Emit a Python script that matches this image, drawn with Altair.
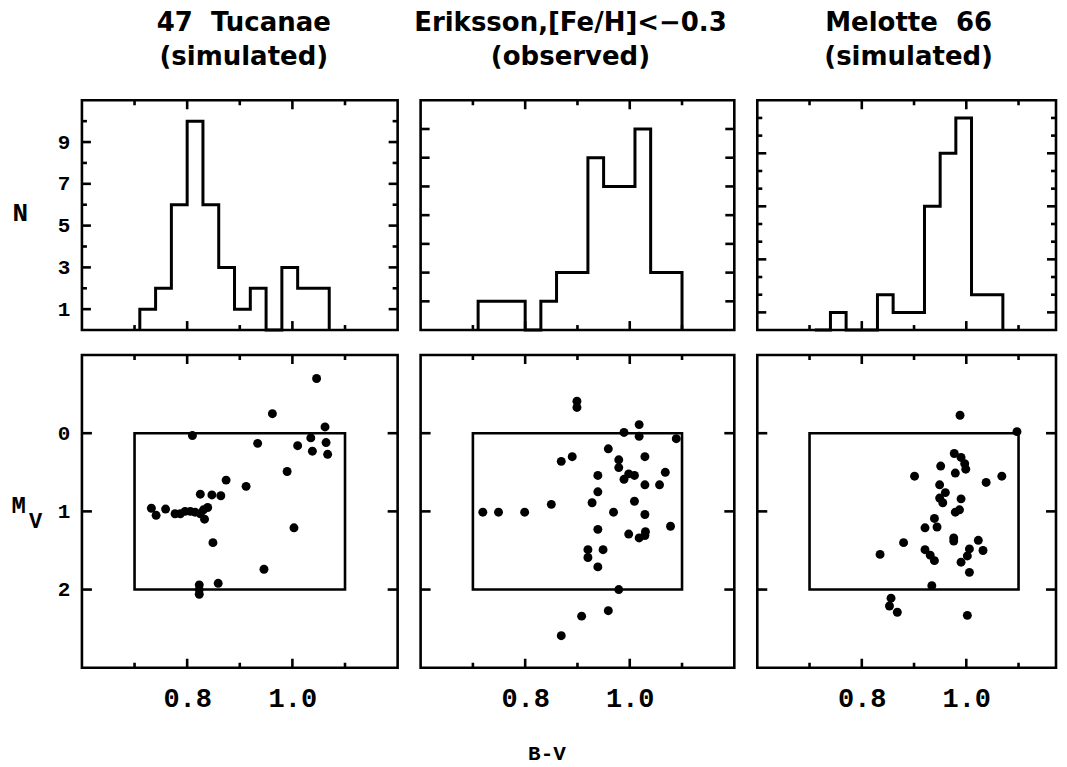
import altair as alt
import pandas as pd

# ---------------- data ----------------
EDGES = [0.71, 0.74, 0.77, 0.80, 0.83, 0.86, 0.89, 0.92, 0.95, 0.98, 1.01, 1.04, 1.07, 1.10]
TUC_COUNTS = [1, 2, 6, 10, 6, 3, 1, 2, 0, 3, 2, 2]
ERI_COUNTS = [1, 1, 1, 0, 1, 2, 2, 6, 5, 5, 7, 2, 2]
MEL_COUNTS = [0, 1, 0, 0, 2, 1, 1, 7, 10, 12, 2, 2]

TUC_BV = [1.046, 0.962, 1.062, 0.810, 1.035, 1.064, 0.934, 1.010, 1.038, 1.067, 0.990, 0.874,
          0.912, 0.825, 0.847, 0.864, 0.732, 0.741, 0.759, 0.777, 0.787, 0.796, 0.806, 0.815,
          0.825, 0.831, 0.839, 0.833, 1.003, 0.849, 0.946, 0.823, 0.859, 0.823, 0.823]
TUC_MV = [-0.70, -0.25, -0.08, 0.03, 0.06, 0.12, 0.13, 0.16, 0.23, 0.27, 0.49, 0.60,
          0.68, 0.78, 0.79, 0.80, 0.96, 1.05, 0.97, 1.03, 1.03, 1.00, 1.00, 1.01,
          1.03, 0.98, 0.95, 1.10, 1.21, 1.40, 1.74, 1.94, 1.92, 2.06, 2.00]

ERI_BV = [0.899, 0.899, 1.018, 0.989, 1.018, 1.089, 0.959, 0.869, 0.890, 0.979, 0.979, 1.029,
          0.939, 0.989, 0.998, 1.009, 1.029, 1.068, 1.057, 0.939, 0.928, 0.850, 1.009, 0.719,
          0.749, 0.799, 0.969, 1.029, 1.078, 0.939, 0.998, 1.018, 1.029, 1.030, 0.920, 0.920,
          0.949, 0.939, 0.979, 0.959, 0.908, 0.869]
ERI_MV = [-0.41, -0.33, -0.11, -0.01, 0.04, 0.07, 0.20, 0.36, 0.30, 0.34, 0.44, 0.30,
          0.54, 0.59, 0.52, 0.54, 0.66, 0.50, 0.66, 0.75, 0.89, 0.91, 0.87, 1.01,
          1.01, 1.01, 1.01, 1.04, 1.19, 1.23, 1.29, 1.34, 1.31, 1.26, 1.49, 1.59,
          1.49, 1.71, 2.00, 2.27, 2.34, 2.59]

MEL_BV = [0.988, 1.097, 0.977, 0.990, 0.997, 0.999, 0.979, 0.951, 0.901, 1.068, 1.038, 0.949,
          0.960, 0.949, 0.955, 0.990, 0.987, 0.979, 0.939, 0.944, 0.921, 0.976, 0.976, 1.023,
          1.032, 0.880, 0.835, 0.921, 0.931, 0.939, 1.006, 1.002, 0.990, 1.006, 0.934, 0.856,
          0.853, 0.868, 1.002]
MEL_MV = [-0.23, -0.02, 0.26, 0.31, 0.39, 0.46, 0.51, 0.42, 0.55, 0.55, 0.63, 0.66,
          0.76, 0.83, 0.89, 0.84, 0.98, 1.01, 1.09, 1.20, 1.21, 1.34, 1.38, 1.37,
          1.50, 1.40, 1.55, 1.49, 1.56, 1.63, 1.48, 1.57, 1.65, 1.78, 1.95, 2.11,
          2.21, 2.29, 2.33]

TITLES = [["47\u00a0\u00a0Tucanae", "(simulated)"],
          ["Eriksson,[Fe/H]<\u22120.3", "(observed)"],
          ["Melotte\u00a0\u00a066", "(simulated)"]]
TITLE_DX = [4, -7, 2]

X_MAJOR = [0.8, 1.0]
X_MINOR = [0.7, 0.9, 1.1]
HIST_YMAX = [11.0, 8.0, 13.0]
HIST_MAJOR = [[1, 3, 5, 7, 9], [1, 2, 3, 4, 5, 6, 7], [1, 4, 7, 10]]
HIST_MINOR = [[2, 4, 6, 8, 10], [], [2, 3, 5, 6, 8, 9, 11, 12]]
HIST_LABELS = [1, 3, 5, 7, 9]
MV_TICKS = [0, 1, 2]
BOX_BV = [0.7, 1.1]
BOX_MV = [0, 2]
MV_SUB = ["V"]

# ---------------- layout/style ----------------
WIDTHS = [316, 314, 299]
XMAX = [1.2, 1.2, 1.1717]
HIST_H = 230
SCAT_H = 313
MAJ_LEN = 9
MIN_LEN = 5
LW = 2.6
MONO = "Liberation Mono"


def step_df(counts):
    xs = [EDGES[0]]
    ys = [0]
    for i, c in enumerate(counts):
        xs.append(EDGES[i])
        ys.append(c)
    xs.append(EDGES[len(counts)])
    ys.append(0)
    return pd.DataFrame({"x": xs, "y": ys, "o": list(range(len(xs)))})


def xtick_layers(vals, xs, xaxis, H, length):
    if not vals:
        return []
    base = alt.Chart(pd.DataFrame({"t": vals})).mark_rule(color="black", strokeWidth=LW)
    enc = dict(x=alt.X("t:Q", scale=xs, axis=xaxis))
    return [base.encode(y=alt.value(0), y2=alt.value(length), **enc),
            base.encode(y=alt.value(H), y2=alt.value(H - length), **enc)]


def ytick_layers(vals, ys, yaxis, W, length):
    if not vals:
        return []
    base = alt.Chart(pd.DataFrame({"t": vals})).mark_rule(color="black", strokeWidth=LW)
    enc = dict(y=alt.Y("t:Q", scale=ys, axis=yaxis))
    return [base.encode(x=alt.value(0), x2=alt.value(length), **enc),
            base.encode(x=alt.value(W), x2=alt.value(W - length), **enc)]


def hist_panel(i, counts):
    W = WIDTHS[i]
    xs = alt.Scale(domain=[0.6, XMAX[i]], nice=False, zero=False)
    ys = alt.Scale(domain=[0, HIST_YMAX[i]], nice=False, zero=False)
    xaxis = None
    if i == 0:
        yaxis = alt.Axis(values=HIST_LABELS, ticks=False, tickSize=0, domain=False, grid=False,
                         labelFont=MONO, labelFontWeight="bold", labelFontSize=21,
                         labelPadding=12, labelColor="black",
                         title="N", titleAngle=0, titleX=-70, titleY=112,
                         titleAlign="left", titleBaseline="middle",
                         titleFont=MONO, titleFontWeight="bold", titleFontSize=26,
                         titleColor="black")
    else:
        yaxis = None
    line = alt.Chart(step_df(counts)).mark_line(
        interpolate="step-after", color="black", strokeWidth=3, strokeJoin="miter"
    ).encode(
        x=alt.X("x:Q", scale=xs, axis=xaxis),
        y=alt.Y("y:Q", scale=ys, axis=yaxis),
        order="o:Q",
    )
    layers = [line]
    layers += xtick_layers(X_MAJOR, xs, xaxis, HIST_H, MAJ_LEN)
    layers += xtick_layers(X_MINOR, xs, xaxis, HIST_H, MIN_LEN)
    layers += ytick_layers(HIST_MAJOR[i], ys, yaxis, W, MAJ_LEN)
    layers += ytick_layers(HIST_MINOR[i], ys, yaxis, W, MIN_LEN)
    return alt.layer(*layers).properties(
        width=W, height=HIST_H,
        title=alt.TitleParams(text=TITLES[i], dx=TITLE_DX[i], anchor="middle",
                              font="DejaVu Sans", fontSize=26, fontWeight="bold",
                              lineHeight=34, offset=29, color="black"),
    )


def scatter_panel(i, bv, mv):
    W = WIDTHS[i]
    xs = alt.Scale(domain=[0.6, XMAX[i]], nice=False, zero=False)
    ys = alt.Scale(domain=[-1, 3], reverse=True, nice=False, zero=False)
    xaxis_kw = dict(values=X_MAJOR, format=".1f", ticks=False, tickSize=0, domain=False,
                    grid=False, labelFont=MONO, labelFontWeight="bold", labelFontSize=27,
                    labelPadding=18, labelColor="black")
    if i == 1:
        xaxis = alt.Axis(title="B-V", titleX=126, titleY=75, titleFont=MONO,
                         titleFontWeight="bold", titleFontSize=21, titleColor="black",
                         titleBaseline="top", **xaxis_kw)
    else:
        xaxis = alt.Axis(title=None, **xaxis_kw)
    if i == 0:
        yaxis = alt.Axis(values=MV_TICKS, ticks=False, tickSize=0, domain=False, grid=False,
                         labelFont=MONO, labelFontWeight="bold", labelFontSize=21,
                         labelPadding=12, labelColor="black",
                         title="M", titleAngle=0, titleX=-71, titleY=151,
                         titleAlign="left", titleBaseline="middle",
                         titleFont=MONO, titleFontWeight="bold", titleFontSize=24,
                         titleColor="black")
    else:
        yaxis = None
    pts = alt.Chart(pd.DataFrame({"bv": bv, "mv": mv})).mark_circle(
        size=80, color="black", opacity=1
    ).encode(
        x=alt.X("bv:Q", scale=xs, axis=xaxis),
        y=alt.Y("mv:Q", scale=ys, axis=yaxis),
    )
    box = alt.Chart(pd.DataFrame({"x1": [BOX_BV[0]], "x2": [BOX_BV[1]],
                                  "y1": [BOX_MV[0]], "y2": [BOX_MV[1]]})).mark_rect(
        fill=None, fillOpacity=0, stroke="black", strokeWidth=LW
    ).encode(
        x=alt.X("x1:Q", scale=xs, axis=xaxis), x2="x2:Q",
        y=alt.Y("y1:Q", scale=ys, axis=yaxis), y2="y2:Q",
    )
    layers = [box, pts]
    layers += xtick_layers(X_MAJOR, xs, xaxis, SCAT_H, MAJ_LEN)
    layers += xtick_layers(X_MINOR, xs, xaxis, SCAT_H, MIN_LEN)
    layers += ytick_layers(MV_TICKS, ys, yaxis, W, MAJ_LEN + 1)
    if i == 0:
        sub = alt.Chart(pd.DataFrame({"s": MV_SUB})).mark_text(
            align="left", baseline="middle", font=MONO, fontWeight="bold",
            fontSize=22, color="black"
        ).encode(text="s:N", x=alt.value(-53), y=alt.value(166))
        layers.append(sub)
    return alt.layer(*layers).properties(width=W, height=SCAT_H)


panels = [hist_panel(0, TUC_COUNTS), hist_panel(1, ERI_COUNTS), hist_panel(2, MEL_COUNTS),
          scatter_panel(0, TUC_BV, TUC_MV), scatter_panel(1, ERI_BV, ERI_MV),
          scatter_panel(2, MEL_BV, MEL_MV)]

chart = alt.concat(*panels, columns=3, spacing={"row": 25, "column": 23},
                   bounds="flush", align="each").properties(
    padding={"left": 1, "top": 0, "right": 0, "bottom": 0}
).configure_view(stroke="black", strokeWidth=LW).configure_axis(grid=False)

chart.save("out.html", embed_options={"renderer": "svg", "actions": False})
